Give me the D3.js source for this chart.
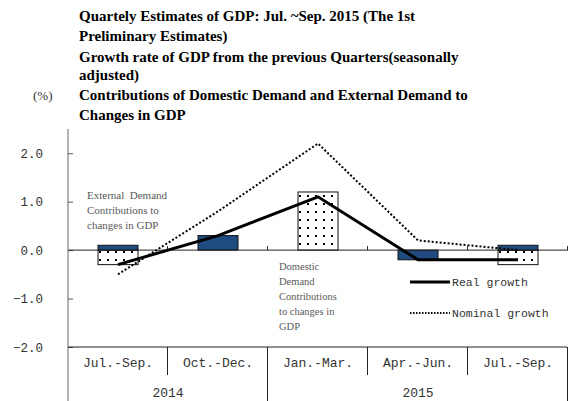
<!DOCTYPE html>
<html>
<head>
<meta charset="utf-8">
<script src="https://cdn.jsdelivr.net/npm/d3@7"></script>
<style>
  body { margin: 0; background: #fff; }
  svg { display: block; }
</style>
</head>
<body>
<div id="chart-area"></div>
<script>
// GDP contributions chart, 2014-2015 quarters
var quarters = ["Jul.-Sep.", "Oct.-Dec.", "Jan.-Mar.", "Apr.-Jun.", "Jul.-Sep."];
var years = ["2014", "2015"];
var yearSpan = [2, 3];               // number of quarters under each year
var domestic = [-0.3, 0.0, 1.2, 0.0, -0.3];
var external = [0.1, 0.3, 0.0, -0.2, 0.1];
var realGrowth = [-0.3, 0.3, 1.1, -0.2, -0.2];
var nominalGrowth = [-0.5, 0.8, 2.2, 0.2, 0.0];
var yTicks = [2, 1, 0, -1, -2];
var titleLines = [
    "Quartely Estimates of GDP: Jul. ~Sep. 2015 (The 1st",
    "Preliminary Estimates)",
    "Growth rate of GDP from the previous Quarters(seasonally",
    "adjusted)",
    "Contributions of Domestic Demand and External Demand to",
    "Changes in GDP"
];
var extNote = ["External  Demand", "Contributions to", "changes in GDP"];
var domNote = ["Domestic", "Demand", "Contributions", "to changes in", "GDP"];

var W = 572, H = 401;
var plotL = 68, plotR = 568, plotT = 129, plotB = 401;
var mono = "'Liberation Mono', monospace";
var serif = "'Liberation Serif', 'Times New Roman', serif";

var svg = d3.select("#chart-area")
    .append("svg")
        .attr("width", W)
        .attr("height", H);

var defs = svg.append("defs");
var pat = defs.append("pattern")
    .attr("id", "dots")
    .attr("patternUnits", "userSpaceOnUse")
    .attr("width", 8)
    .attr("height", 8);
pat.append("rect").attr("width", 8).attr("height", 8).attr("fill", "#fff");
pat.append("rect").attr("x", 3).attr("y", 3).attr("width", 2).attr("height", 2).attr("fill", "#000");

// titles
svg.selectAll(".title")
    .data(titleLines)
    .enter().append("text")
        .attr("class", "title")
        .attr("x", 79)
        .attr("y", function(d, i){ return [21, 41, 62, 80, 100, 120][i]; })
        .attr("font-family", serif)
        .attr("font-weight", "bold")
        .attr("font-size", "15px")
        .text(function(d){ return d; });

svg.append("text")
    .attr("x", 33)
    .attr("y", 100)
    .attr("font-family", serif)
    .attr("font-size", "13px")
    .attr("fill", "#333")
    .text("(%)");

var x = d3.scaleBand()
    .domain(d3.range(quarters.length))
    .range([plotL, plotR])
    .paddingInner(0.6)
    .paddingOuter(0.3);

var y = d3.scaleLinear()
    .domain([-2, 2.5])
    .range([347, plotT]);

function cx(i){ return x(i) + x.bandwidth() / 2; }
function edge(i){ return plotL + i * x.step(); }

// y axis: inner ticks to the right, labels well to the left
var yAxis = d3.axisLeft(y)
    .tickValues(yTicks)
    .tickSizeInner(-5)
    .tickSizeOuter(0)
    .tickPadding(25)
    .tickFormat(d3.format(".1f"));

var yAxisGroup = svg.append("g")
    .attr("transform", "translate(" + plotL + ",0)")
    .call(yAxis);
yAxisGroup.select(".domain").remove();
yAxisGroup.selectAll("line").attr("stroke", "#555");
yAxisGroup.selectAll("text")
    .attr("font-family", mono)
    .attr("font-size", "12.5px")
    .attr("fill", "#333");

// bars, stacked from zero in both directions
var table = quarters.map(function(q, i){
    return {i: i, domestic: domestic[i], external: external[i]};
});
var series = d3.stack()
    .keys(["domestic", "external"])
    .offset(d3.stackOffsetDiverging)(table);

var fills = {domestic: "url(#dots)", external: "#1f4b80"};

series.forEach(function(s){
    svg.selectAll(".bar-" + s.key)
        .data(s.filter(function(d){ return d[1] - d[0] !== 0; }))
        .enter().append("rect")
            .attr("class", "bar-" + s.key)
            .attr("x", function(d){ return x(d.data.i); })
            .attr("y", function(d){ return y(Math.max(d[0], d[1])); })
            .attr("width", x.bandwidth())
            .attr("height", function(d){ return Math.abs(y(d[0]) - y(d[1])); })
            .attr("fill", fills[s.key])
            .attr("stroke", "#111")
            .attr("stroke-width", 1);
});

// zero line with small upward ticks
svg.append("line")
    .attr("x1", plotL).attr("x2", plotR)
    .attr("y1", y(0)).attr("y2", y(0))
    .attr("stroke", "#222");
svg.selectAll(".zt")
    .data(d3.range(1, quarters.length + 1))
    .enter().append("line")
        .attr("x1", function(d){ return edge(d) - 0.5; })
        .attr("x2", function(d){ return edge(d) - 0.5; })
        .attr("y1", y(0) - 4)
        .attr("y2", y(0))
        .attr("stroke", "#222");

// growth lines
var line = d3.line()
    .x(function(d, i){ return cx(i); })
    .y(function(d){ return y(d); });

svg.append("path")
    .datum(nominalGrowth)
    .attr("d", line)
    .attr("fill", "none")
    .attr("stroke", "#000")
    .attr("stroke-width", 2)
    .attr("stroke-dasharray", "2,2");

svg.append("path")
    .datum(realGrowth)
    .attr("d", line)
    .attr("fill", "none")
    .attr("stroke", "#000")
    .attr("stroke-width", 3);

// y axis line runs down through the table
svg.append("line")
    .attr("x1", plotL).attr("x2", plotL)
    .attr("y1", plotT).attr("y2", plotB)
    .attr("stroke", "#666");

// category table
svg.append("line")
    .attr("x1", plotL).attr("x2", plotR - 1)
    .attr("y1", y(-2)).attr("y2", y(-2))
    .attr("stroke", "#222");

var yearEdges = [0];
yearSpan.forEach(function(n, i){ yearEdges.push(yearEdges[i] + n); });

svg.selectAll(".sep")
    .data(d3.range(1, quarters.length + 1))
    .enter().append("line")
        .attr("x1", function(d){ return edge(d) - 0.5; })
        .attr("x2", function(d){ return edge(d) - 0.5; })
        .attr("y1", y(-2))
        .attr("y2", function(d){ return yearEdges.indexOf(d) >= 0 ? plotB : 375; })
        .attr("stroke", "#222");

svg.selectAll(".qlabel")
    .data(quarters)
    .enter().append("text")
        .attr("x", function(d, i){ return cx(i); })
        .attr("y", 367)
        .attr("text-anchor", "middle")
        .attr("font-family", mono)
        .attr("font-size", "13px")
        .attr("fill", "#333")
        .text(function(d){ return d; });

svg.selectAll(".ylabel")
    .data(years)
    .enter().append("text")
        .attr("x", function(d, i){ return (edge(yearEdges[i]) + edge(yearEdges[i + 1])) / 2; })
        .attr("y", 397)
        .attr("text-anchor", "middle")
        .attr("font-family", mono)
        .attr("font-size", "13px")
        .attr("fill", "#333")
        .text(function(d){ return d; });

// notes inside the plot
svg.selectAll(".extnote")
    .data(extNote)
    .enter().append("text")
        .attr("x", 87)
        .attr("y", function(d, i){ return 199 + i * 15; })
        .attr("font-family", serif)
        .attr("font-size", "11px")
        .attr("fill", "#595959")
        .style("white-space", "pre")
        .text(function(d){ return d; });

svg.selectAll(".domnote")
    .data(domNote)
    .enter().append("text")
        .attr("x", 279)
        .attr("y", function(d, i){ return 270 + i * 15; })
        .attr("font-family", serif)
        .attr("font-size", "10.5px")
        .attr("fill", "#595959")
        .text(function(d){ return d; });

// legend
var legend = [
    {name: "Real growth", width: 3, dash: null, y: 282},
    {name: "Nominal growth", width: 2, dash: "1.5,1.5", y: 313}
];
legend.forEach(function(l){
    svg.append("line")
        .attr("x1", 410).attr("x2", 450)
        .attr("y1", l.y).attr("y2", l.y)
        .attr("stroke", "#000")
        .attr("stroke-width", l.width)
        .attr("stroke-dasharray", l.dash);
    svg.append("text")
        .attr("x", 452)
        .attr("y", l.y + 4)
        .attr("font-family", mono)
        .attr("font-size", "11.5px")
        .attr("fill", "#333")
        .text(l.name);
});
</script>
</body>
</html>
